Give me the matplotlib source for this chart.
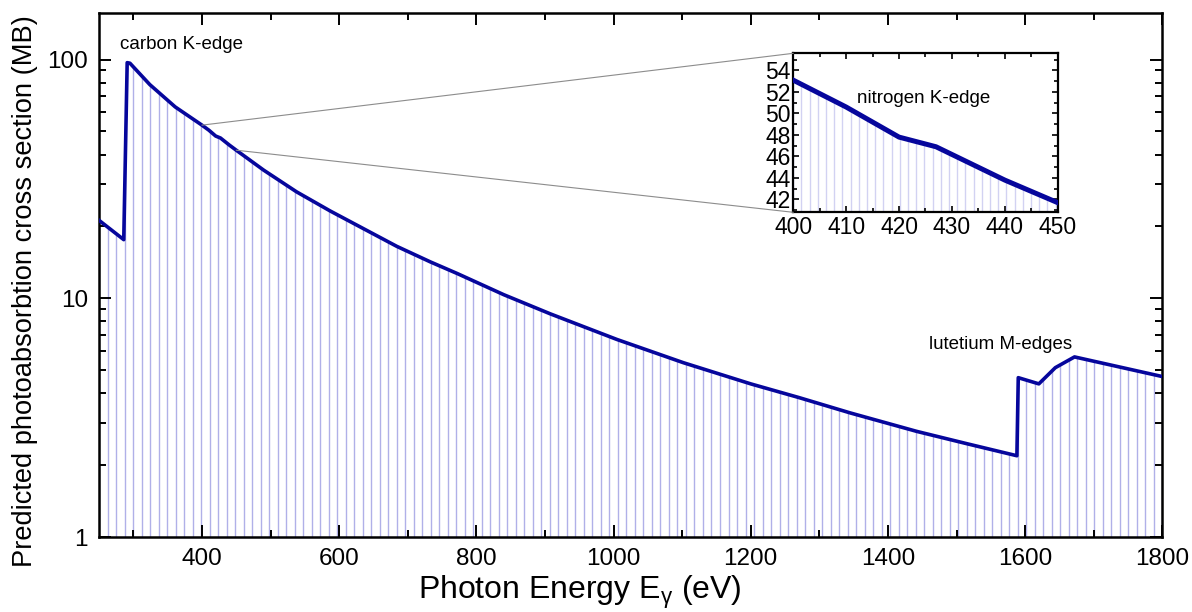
import matplotlib
matplotlib.use("Agg")
import matplotlib.pyplot as plt
import numpy as np
from matplotlib.patches import Polygon, ConnectionPatch
from matplotlib.ticker import MultipleLocator, FixedLocator, FuncFormatter, LogLocator, NullFormatter

plt.rcParams['font.family'] = ['Liberation Sans', 'DejaVu Sans']
plt.rcParams['mathtext.fontset'] = 'custom'
plt.rcParams['mathtext.rm'] = 'Liberation Sans'
plt.rcParams['mathtext.it'] = 'Liberation Sans:italic'

# photon energy (eV) and predicted cross section (MB)
energy = [250, 286, 291, 295, 324, 361, 400, 410, 420, 427, 440, 450, 490, 538,
          587, 635, 684, 733, 772, 840, 908, 1005, 1102, 1200, 1270, 1345, 1442,
          1515, 1588, 1590, 1620, 1644, 1672, 1800]
sigma = [21.2, 17.6, 97.0, 96.5, 78.5, 63.3, 53.1, 50.6, 47.8, 46.9, 43.8, 41.7,
         34.4, 27.9, 23.2, 19.6, 16.5, 14.2, 12.7, 10.35, 8.6, 6.72, 5.37, 4.38,
         3.84, 3.31, 2.77, 2.46, 2.19, 4.65, 4.38, 5.12, 5.68, 4.70]

# spacing of the light drop lines (style, not data)
DROP_STEP_MAIN = 12.4
DROP_STEP_INSET = 1.55

LINE_COLOR = '#06069c'

E = np.array(energy, dtype=float)
S = np.array(sigma, dtype=float)

fig = plt.figure(figsize=(11.92, 6.12), dpi=100)
ax = fig.add_axes([0.0831, 0.1225, 0.892, 0.8567])


def drop_lines(axis, step, color, lw):
    """Vertical drop lines under the curve, clipped to the area below it"""
    x0, x1 = axis.get_xlim()
    xs = np.arange(x0, x1 + 1e-9, step)
    verts = [(E[0], 1e-3)] + list(zip(E, S)) + [(E[-1], 1e-3)]
    clip = Polygon(verts, closed=True, transform=axis.transData)
    lines = axis.vlines(xs, 1e-3, 1e3, colors=color, linewidth=lw, zorder=1)
    lines.set_clip_path(clip)


ax.set_yscale('log')
ax.set_xlim(250, 1800)
ax.set_ylim(1, 157)
drop_lines(ax, DROP_STEP_MAIN, '#b0b0e8', 1.0)
ax.plot(E, S, color=LINE_COLOR, lw=2.6, zorder=3, solid_joinstyle='round')

ax.xaxis.set_major_locator(FixedLocator(np.arange(400, 1801, 200)))
ax.xaxis.set_minor_locator(FixedLocator(np.arange(300, 1800, 200)))
ax.yaxis.set_major_locator(FixedLocator([1, 10, 100]))
ax.yaxis.set_minor_locator(LogLocator(base=10, subs=np.arange(2, 10)))
ax.yaxis.set_major_formatter(FuncFormatter(lambda v, _: f'{v:g}'))
ax.yaxis.set_minor_formatter(NullFormatter())
ax.tick_params(which='both', direction='in', top=True, right=True, width=1.4,
               labelsize=17.5, pad=8)
ax.tick_params(which='major', length=8.6)
ax.tick_params(which='minor', length=4.7)
for sp in ax.spines.values():
    sp.set_linewidth(1.8)

ax.set_xlabel('Photon Energy $\\mathregular{E_{\\gamma}}$ (eV)', fontsize=23)
ax.set_ylabel('Predicted photoabsorbtion cross section (MB)', fontsize=19.6)
ax.xaxis.set_label_coords(0.4525, -0.07)
ax.yaxis.set_label_coords(-0.057, 0.47)

ax.text(0.0198, 0.939, 'carbon K-edge', transform=ax.transAxes, fontsize=13.5,
        va='center', ha='left')
ax.text(0.781, 0.367, 'lutetium M-edges', transform=ax.transAxes, fontsize=13.5,
        va='center', ha='left')

# inset: nitrogen K-edge
axins = fig.add_axes([0.6655, 0.6531, 0.2218, 0.2598])
axins.set_xlim(400, 450)
axins.set_ylim(40.8, 55.6)
drop_lines(axins, DROP_STEP_INSET, '#d2d2f2', 1.0)
axins.plot(E, S, color=LINE_COLOR, lw=3.6, zorder=3, solid_joinstyle='round')
axins.xaxis.set_major_locator(MultipleLocator(10))
axins.xaxis.set_minor_locator(MultipleLocator(5))
axins.yaxis.set_major_locator(FixedLocator(np.arange(42, 55, 2)))
axins.yaxis.set_minor_locator(MultipleLocator(1))
axins.tick_params(which='both', direction='in', top=True, right=True, width=1.2,
                  labelsize=16.5, pad=3)
axins.tick_params(axis='y', pad=2)
axins.tick_params(which='major', length=4.5)
axins.tick_params(which='minor', length=2.8)
for sp in axins.spines.values():
    sp.set_linewidth(1.6)
axins.text(0.24, 0.717, 'nitrogen K-edge', transform=axins.transAxes, fontsize=13.5,
           va='center', ha='left')

# connector lines from the main curve to the inset corners
for e_val, corner in [(400, (0, 1)), (450, (0, 0))]:
    y_val = S[np.where(E == e_val)[0][0]]
    con = ConnectionPatch(xyA=(e_val, y_val), coordsA=ax.transData,
                          xyB=corner, coordsB=axins.transAxes,
                          color='#8c8c8c', lw=0.8, zorder=2)
    fig.add_artist(con)

fig.savefig('out.png', dpi=100)
